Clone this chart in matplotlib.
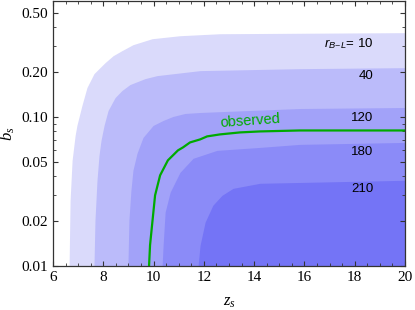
import numpy as np
import matplotlib
matplotlib.use('Agg')
import matplotlib.pyplot as plt
from matplotlib.ticker import FixedLocator, MultipleLocator, NullFormatter

plt.rcParams['font.family'] = ['Liberation Serif', 'DejaVu Serif']
plt.rcParams['mathtext.fontset'] = 'custom'
plt.rcParams['mathtext.rm'] = 'Liberation Serif'
plt.rcParams['mathtext.it'] = 'Liberation Serif:italic'
plt.rcParams['mathtext.sf'] = 'Liberation Sans:italic'

# contour boundaries (z_s, b_s), outermost first
z_10 = [6.64, 6.68, 6.76, 6.88, 6.95, 7.15, 7.35, 7.63, 8.07, 8.39, 8.74, 9.18, 9.94, 11.05, 12.64, 20.0]
b_10 = [0.01, 0.0276, 0.0512, 0.0752, 0.0877, 0.1194, 0.1575, 0.1954, 0.2315, 0.2577, 0.2786, 0.3055,
        0.3351, 0.351, 0.362, 0.368]
z_40 = [7.63, 7.67, 7.75, 7.83, 7.91, 8.03, 8.19, 8.47, 8.74, 9.06, 9.66, 10.14, 11.85, 15.82, 20.0]
b_40 = [0.01, 0.0203, 0.0376, 0.0553, 0.0697, 0.0877, 0.1105, 0.135, 0.1504, 0.165, 0.1809, 0.1895,
        0.2047, 0.211, 0.2143]
z_120 = [8.98, 9.02, 9.10, 9.18, 9.34, 9.58, 9.98, 10.38, 10.77, 11.25, 11.85, 15.82, 20.0]
b_120 = [0.01, 0.0203, 0.0322, 0.0439, 0.057, 0.0729, 0.0877, 0.0948, 0.1008, 0.1056, 0.1072, 0.114, 0.1158]
z_180 = [10.34, 10.38, 10.46, 10.66, 11.05, 11.57, 12.52, 14.23, 15.82, 20.0]
b_180 = [0.01, 0.0138, 0.023, 0.0313, 0.0425, 0.0528, 0.0597, 0.0625, 0.0655, 0.0675]
z_210 = [11.77, 11.85, 12.05, 12.36, 12.72, 13.16, 14.23, 20.0]
b_210 = [0.01, 0.0138, 0.0197, 0.0256, 0.0298, 0.0332, 0.0359, 0.0376]

# observed curve
z_obs = [9.82, 9.86, 9.94, 10.06, 10.26, 10.57, 10.97, 11.17, 11.45, 11.85, 12.13, 12.64, 13.44, 14.23,
         15.82, 20.0]
b_obs = [0.01, 0.0138, 0.0188, 0.0298, 0.0406, 0.0512, 0.0597, 0.0625, 0.0675, 0.0707, 0.0741, 0.0764,
         0.0788, 0.080, 0.0812, 0.0812]

levels = [10, 40, 120, 180, 210]
label_b = [0.310, 0.1895, 0.0977, 0.0579, 0.0327]
band_colors = ['#dadafb', '#bbbbfa', '#a2a2f9', '#8b8bf8', '#7474f6']

fig = plt.figure(figsize=(4.15, 3.10), dpi=100)
ax = fig.add_axes([0.1277, 0.1419, 0.8482, 0.8548])
ax.set_yscale('log')

bounds = [(z_10, b_10), (z_40, b_40), (z_120, b_120), (z_180, b_180), (z_210, b_210)]
for (zz, bb), c in zip(bounds, band_colors):
    ax.fill_between(zz, bb, 0.01, color=c, lw=0)

ax.plot(z_obs, b_obs, color='#00aa00', lw=1.6, solid_capstyle='butt')
ax.text(13.84, 0.0945, 'observed', color='#00aa00', fontsize=10.5, family='Liberation Sans',
        ha='center', va='center', rotation=4)

for lev, yb in zip(levels, label_b):
    s = r'$\mathsf{r}_{\mathsf{B}\!-\!\mathsf{L}}$= %d' % lev if lev == 10 else str(lev)
    ax.text(18.73, yb, s, fontsize=9.5, family='Liberation Sans', ha='right', va='center')

ax.set_xlim(6, 20)
ax.set_ylim(0.01, 0.6)
ax.xaxis.set_major_locator(MultipleLocator(2))
ax.xaxis.set_minor_locator(MultipleLocator(0.5))
ax.yaxis.set_major_locator(FixedLocator([0.01, 0.02, 0.05, 0.1, 0.2, 0.5]))
ax.set_yticklabels(['0.01', '0.02', '0.05', '0.10', '0.20', '0.50'])
minor = [m * 10.0 ** e for e in (-2, -1) for m in range(1, 10)]
ax.yaxis.set_minor_locator(FixedLocator(minor))
ax.yaxis.set_minor_formatter(NullFormatter())
ax.tick_params(which='both', direction='in', top=True, right=True, labelsize=11, color='#333333')
ax.tick_params(which='major', length=3.5, width=0.8)
ax.tick_params(which='minor', length=2, width=0.6)
for sp in ax.spines.values():
    sp.set_color('#333333')
    sp.set_linewidth(0.9)

ax.set_xlabel(r'$z_s$', fontsize=12, labelpad=7)
ax.set_ylabel(r'$b_s$', fontsize=12, labelpad=3)

fig.savefig('out.png', dpi=100)
